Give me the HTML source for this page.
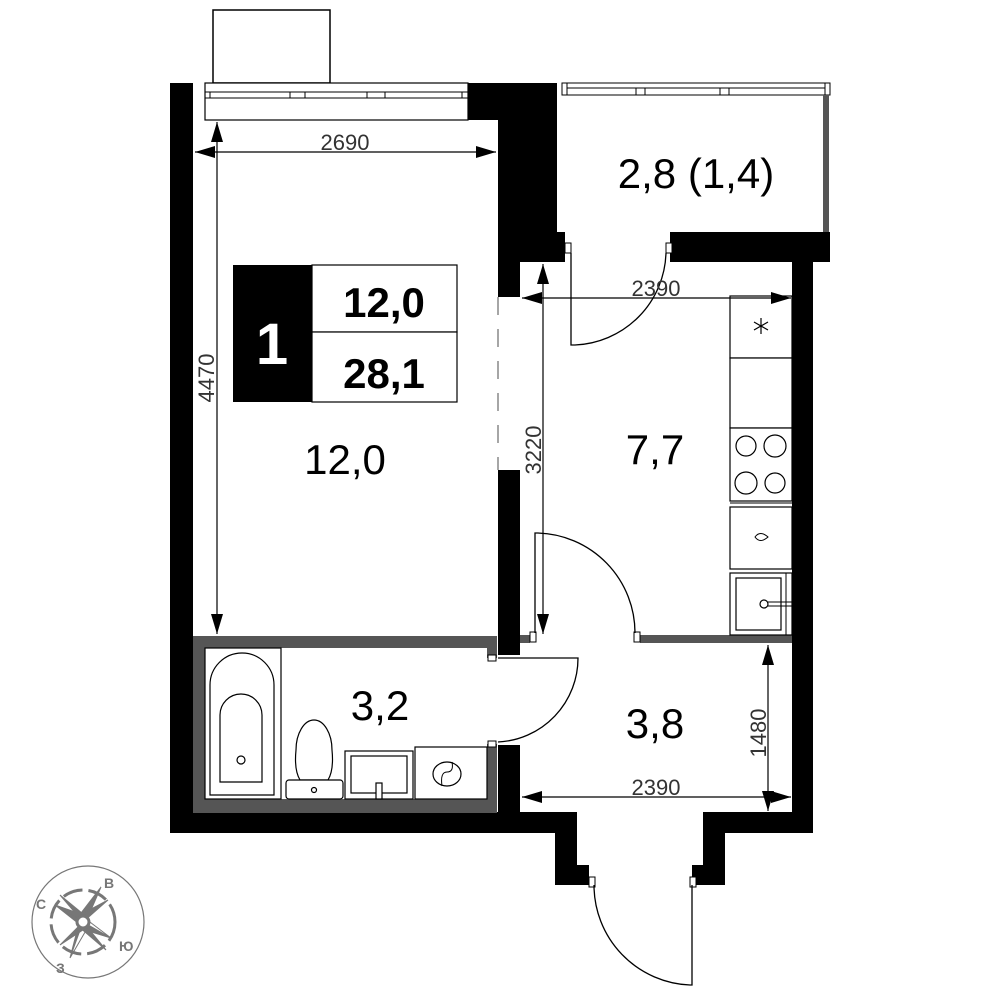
<!DOCTYPE html>
<html><head><meta charset="utf-8"><style>html,body{margin:0;padding:0;background:#fff}svg{display:block}</style></head>
<body>
<svg width="1000" height="1000" viewBox="0 0 1000 1000" xmlns="http://www.w3.org/2000/svg" font-family="Liberation Sans, sans-serif">
<defs>
<marker id="ar2" markerWidth="20" markerHeight="12" refX="20" refY="6" orient="auto-start-reverse" markerUnits="userSpaceOnUse"><path d="M0,0 L20,6 L0,12 Z" fill="#000"/></marker>
</defs>
<rect x="213" y="10" width="117" height="73" fill="#fff" stroke="#000" stroke-width="1.5"/>
<g fill="#000">
<rect x="170" y="83" width="23" height="750"/>
<rect x="170" y="812" width="405" height="21"/>
<rect x="468" y="83" width="89" height="37"/>
<rect x="498" y="83" width="59" height="177"/>
<rect x="498" y="250" width="22" height="47"/>
<rect x="520" y="232" width="45" height="30"/>
<rect x="670" y="232" width="160" height="30"/>
<rect x="792" y="232" width="21" height="601"/>
<rect x="718" y="812" width="95" height="21"/>
<rect x="498" y="470" width="22" height="185"/>
<rect x="498" y="745" width="22" height="88"/>
<rect x="555" y="812" width="22" height="73"/>
<rect x="577" y="865" width="12" height="20"/>
<rect x="703" y="812" width="22" height="73"/>
<rect x="692" y="865" width="12" height="20"/>
</g>
<rect x="205" y="83" width="263" height="37" fill="#fff" stroke="#000" stroke-width="1.2"/>
<line x1="205" y1="92" x2="468" y2="92" stroke="#000" stroke-width="1"/>
<line x1="205" y1="98" x2="468" y2="98" stroke="#000" stroke-width="1"/>
<g stroke="#000" stroke-width="1"><line x1="210" y1="92" x2="210" y2="98"/><line x1="290" y1="92" x2="290" y2="98"/><line x1="305" y1="92" x2="305" y2="98"/><line x1="367" y1="92" x2="367" y2="98"/><line x1="385" y1="92" x2="385" y2="98"/><line x1="462" y1="92" x2="462" y2="98"/></g>
<rect x="562" y="83" width="268" height="12" fill="#fff" stroke="#000" stroke-width="1"/>
<line x1="567" y1="88" x2="825" y2="88" stroke="#000" stroke-width="1"/>
<line x1="567" y1="95" x2="567" y2="83" stroke="#000"/><line x1="825" y1="95" x2="825" y2="83" stroke="#000"/>
<g stroke="#000" stroke-width="1"><line x1="636" y1="88" x2="636" y2="95"/><line x1="645" y1="88" x2="645" y2="95"/><line x1="720" y1="88" x2="720" y2="95"/><line x1="729" y1="88" x2="729" y2="95"/></g>
<rect x="823" y="95" width="6" height="137" fill="#555"/>
<line x1="498" y1="297" x2="498" y2="470" stroke="#888" stroke-width="1.5" stroke-dasharray="18,14"/>
<path d="M193,636 H497 V813 H193 Z M205,648 V799 H487 V648 Z" fill="#555" fill-rule="evenodd"/>
<rect x="486" y="658" width="13" height="86" fill="#fff"/>
<rect x="640" y="635" width="152" height="8" fill="#555"/>
<rect x="520" y="635" width="10" height="8" fill="#555"/>
<g fill="#fff" stroke="#000" stroke-width="1">
<rect x="565" y="243" width="6" height="10"/><rect x="666" y="243" width="6" height="10"/>
<rect x="488" y="655" width="8" height="6"/><rect x="488" y="741" width="8" height="6"/>
<rect x="530" y="632" width="6" height="10"/><rect x="634" y="632" width="6" height="10"/>
<rect x="589" y="877" width="6" height="10"/><rect x="690" y="877" width="6" height="10"/>
</g>
<g fill="none" stroke="#000" stroke-width="1.3">
<path d="M571,253 V345 H575 A95,95 0 0 0 666,253"/>
<path d="M498,658 H578 A84,84 0 0 1 498,742"/>
<path d="M535,633 V533 H538 A100,100 0 0 1 635,633"/>
<path d="M692,885 V985 H690 A100,100 0 0 1 594,885"/>
</g>
<g fill="#fff" stroke="#000" stroke-width="1.2">
<rect x="730" y="296" width="62" height="62"/>
<rect x="730" y="358" width="62" height="70"/>
<rect x="730" y="428" width="62" height="73"/>
<rect x="730" y="507" width="62" height="62"/>
<rect x="730" y="573" width="62" height="62"/>
<rect x="736" y="578" width="45" height="52"/>
<circle cx="746" cy="446" r="10"/><circle cx="775" cy="446" r="11"/>
<circle cx="746" cy="483" r="11"/><circle cx="775" cy="483" r="10"/>
<circle cx="764" cy="604" r="4"/>
</g>
<line x1="730" y1="503" x2="792" y2="503" stroke="#000"/>
<line x1="786" y1="573" x2="786" y2="635" stroke="#000"/>
<line x1="768" y1="602" x2="792" y2="602" stroke="#000"/><line x1="768" y1="606" x2="792" y2="606" stroke="#000"/>
<path d="M755,537 Q760,530 768,537 Q760,544 755,537 Z" fill="none" stroke="#000"/>
<g stroke="#000" stroke-width="1.2"><line x1="761" y1="318" x2="761" y2="334"/><line x1="754" y1="322" x2="768" y2="330"/><line x1="754" y1="330" x2="768" y2="322"/></g>
<g fill="#fff" stroke="#000" stroke-width="1.2">
<rect x="205" y="648" width="76" height="151"/>
<path d="M210,795 V685 A32,32 0 0 1 274,685 V795 Z"/>
<path d="M220,782 V715 A21,21 0 0 1 262,715 V782 Z"/>
<circle cx="241" cy="760" r="4"/>
<path d="M300,780 Q294,770 296,750 A18,30 0 0 1 332,750 Q334,770 328,780 Z"/>
<rect x="286" y="780" width="57" height="19" rx="3"/>
<circle cx="314" cy="790" r="2.5"/>
<rect x="345" y="751" width="68" height="48"/>
<rect x="351" y="756" width="56" height="37"/>
<rect x="376" y="783" width="6" height="16"/>
<rect x="415" y="747" width="72" height="52"/>
<ellipse cx="447" cy="774" rx="14" ry="12"/>
</g>
<path d="M442,786 Q440,772 447,772 Q454,772 452,762" fill="none" stroke="#000"/>
<g stroke="#000" stroke-width="1.2" fill="none">
<line x1="195" y1="152" x2="496" y2="152" marker-start="url(#ar2)" marker-end="url(#ar2)"/>
<line x1="217" y1="122" x2="217" y2="634" marker-start="url(#ar2)" marker-end="url(#ar2)"/>
<line x1="543" y1="264" x2="543" y2="634" marker-start="url(#ar2)" marker-end="url(#ar2)"/>
<line x1="522" y1="298" x2="791" y2="298" marker-start="url(#ar2)" marker-end="url(#ar2)"/>
<line x1="522" y1="797" x2="791" y2="797" marker-start="url(#ar2)" marker-end="url(#ar2)"/>
<line x1="768" y1="645" x2="768" y2="811" marker-start="url(#ar2)" marker-end="url(#ar2)"/>
</g>
<g fill="#333" font-size="22">
<text x="345" y="150" text-anchor="middle">2690</text>
<text x="656" y="296" text-anchor="middle">2390</text>
<text x="656" y="795" text-anchor="middle">2390</text>
<text transform="translate(214,378) rotate(-90)" text-anchor="middle">4470</text>
<text transform="translate(541,450) rotate(-90)" text-anchor="middle">3220</text>
<text transform="translate(766,733) rotate(-90)" text-anchor="middle">1480</text>
</g>
<rect x="233" y="265" width="79" height="137" fill="#000"/>
<rect x="312" y="265" width="145" height="67" fill="#fff" stroke="#000" stroke-width="1.2"/>
<rect x="312" y="332" width="145" height="70" fill="#fff" stroke="#000" stroke-width="1.2"/>
<text x="272" y="364" font-size="58" font-weight="bold" fill="#fff" text-anchor="middle">1</text>
<text x="384" y="317" font-size="42" font-weight="bold" text-anchor="middle">12,0</text>
<text x="384" y="388" font-size="42" font-weight="bold" text-anchor="middle">28,1</text>
<g font-size="42" text-anchor="middle">
<text x="345" y="474">12,0</text>
<text x="696" y="188">2,8 (1,4)</text>
<text x="655" y="464">7,7</text>
<text x="380" y="720">3,2</text>
<text x="655" y="738">3,8</text>
</g>
<circle cx="88" cy="922" r="56" fill="none" stroke="#777" stroke-width="1.2"/>
<g fill="#777" stroke="#777">
<circle cx="83" cy="922" r="32" fill="none" stroke-width="3" stroke-dasharray="20,6"/>
<path d="M83,922 L101,887 L88,917 Z M83,922 L101,887 L78,917 Z"/>
<path d="M55,905 L83,922 L78,913 Z M55,905 L88,931 L83,922 Z"/>
<path d="M70,958 L83,922 L78,927 Z M70,958 L88,927 Z"/>
<path d="M111,938 L83,922 L88,931 Z M111,938 L78,913 Z"/>
<path d="M83,922 L60,945 L86,928 Z M83,922 L108,900 L80,915 Z M83,922 L60,895 L88,918 Z M83,922 L106,950 L78,926 Z"/>
<circle cx="83" cy="922" r="6" fill="#fff" stroke-width="3"/>
</g>
<g fill="#777" font-size="14" font-weight="bold">
<text x="36" y="909">С</text><text x="104" y="888">В</text><text x="119" y="951">Ю</text><text x="56" y="973">З</text>
</g>
</svg>
</body></html>
